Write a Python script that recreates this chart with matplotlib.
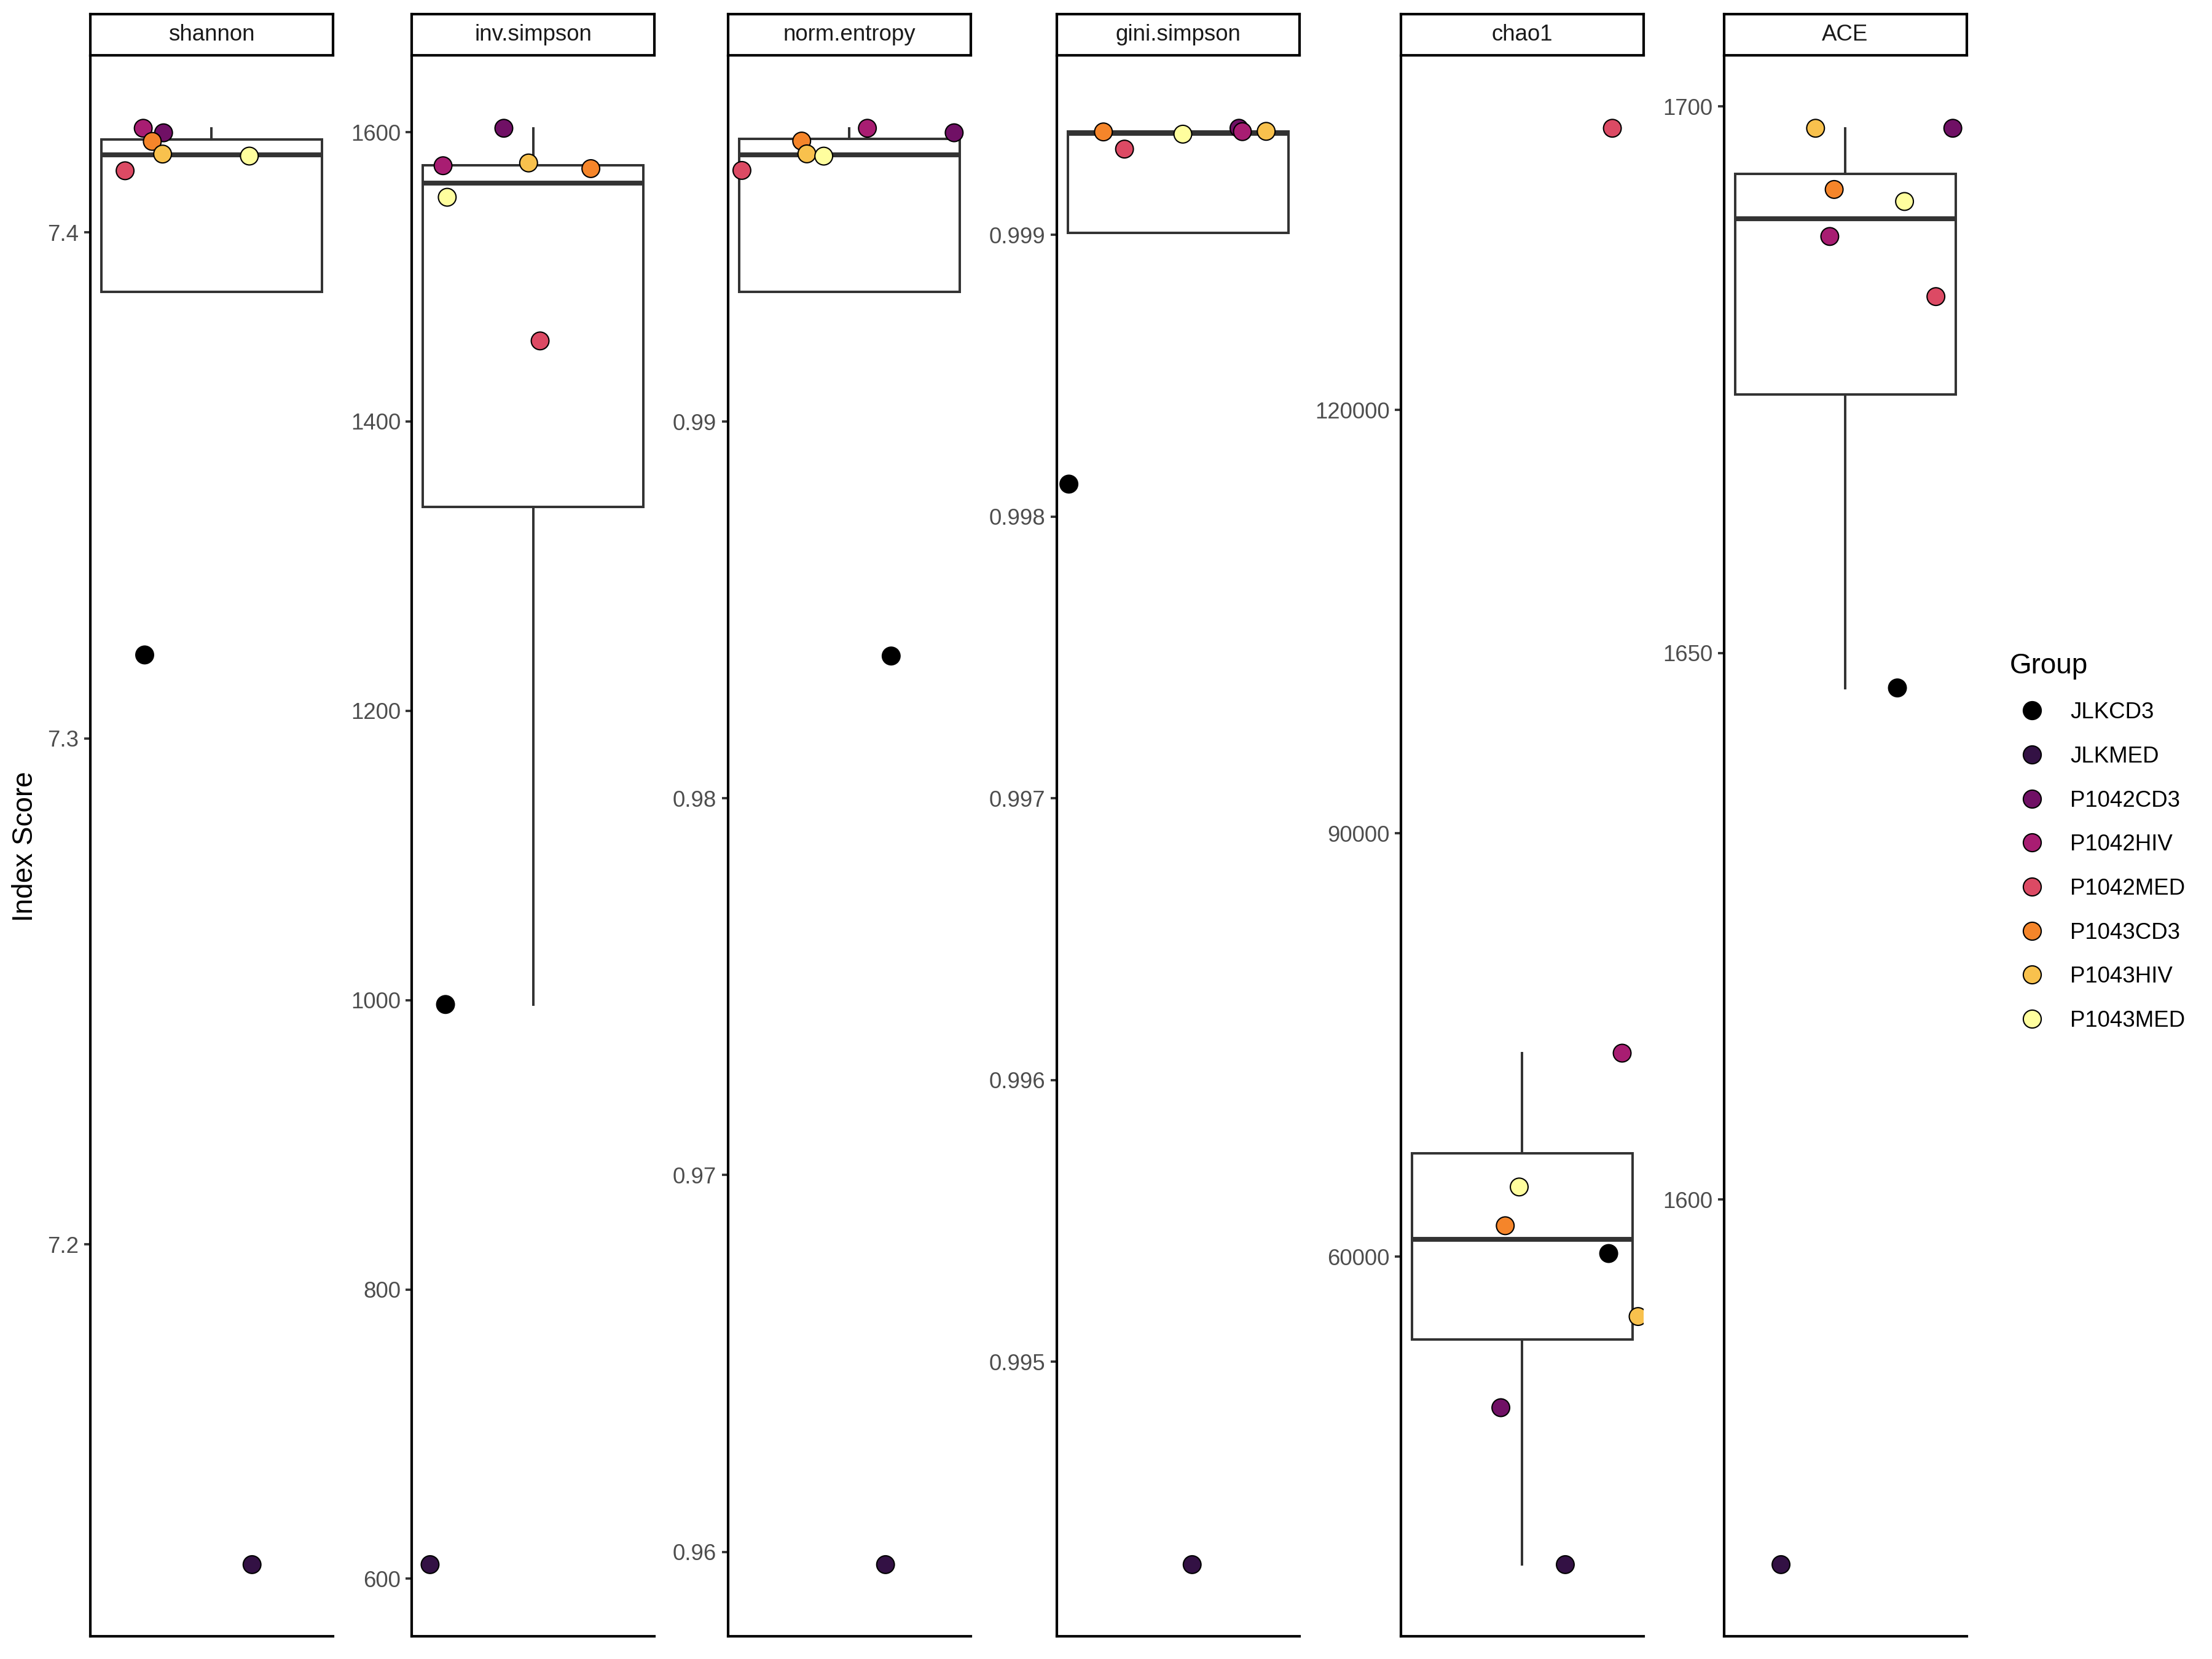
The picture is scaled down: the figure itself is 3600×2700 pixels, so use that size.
import matplotlib
matplotlib.use("Agg")
import matplotlib.pyplot as plt
from matplotlib.lines import Line2D

plt.rcParams['font.family'] = ['Liberation Sans', 'DejaVu Sans']

# sample groups and their fill colours
groups = ['JLKCD3', 'JLKMED', 'P1042CD3', 'P1042HIV', 'P1042MED',
          'P1043CD3', 'P1043HIV', 'P1043MED']
colors = ['#000000', '#331144', '#701065', '#A81D72', '#DC4A64',
          '#F5852A', '#F8C14D', '#FFFE9E']

metrics = ['shannon', 'inv.simpson', 'norm.entropy', 'gini.simpson', 'chao1', 'ACE']

# index values, same order as groups
shannon = [7.3165, 7.1367, 7.4197, 7.4206, 7.4122, 7.4180, 7.4155, 7.4151]
inv_simpson = [997.0, 609.8, 1602.7, 1576.8, 1455.7, 1574.8, 1578.7, 1555.0]
norm_entropy = [0.98378, 0.95966, 0.99767, 0.99779, 0.99667, 0.99745, 0.99711, 0.99705]
gini_simpson = [0.998115, 0.99428, 0.999378, 0.999366, 0.999304, 0.999365, 0.999367, 0.999357]
chao1 = [60222, 38176, 49296, 74420, 139960, 62190, 55757, 64936]
ace = [1646.8, 1566.6, 1698.0, 1688.1, 1682.6, 1692.4, 1698.0, 1691.3]

# horizontal jitter (box spans -0.45..0.45)
jit_shannon = [-0.273, 0.165, -0.196, -0.279, -0.353, -0.242, -0.200, 0.154]
jit_inv = [-0.358, -0.421, -0.120, -0.368, 0.028, 0.235, -0.019, -0.351]
jit_norm = [0.171, 0.148, 0.428, 0.074, -0.438, -0.194, -0.173, -0.104]
jit_gini = [-0.445, 0.058, 0.249, 0.263, -0.218, -0.304, 0.360, 0.020]
jit_chao1 = [0.353, 0.176, -0.087, 0.408, 0.368, -0.069, 0.473, -0.012]
jit_ace = [0.213, -0.262, 0.439, -0.063, 0.370, -0.045, -0.121, 0.242]

ticks_shannon = [7.2, 7.3, 7.4]
ticks_inv = [600, 800, 1000, 1200, 1400, 1600]
ticks_norm = [0.96, 0.97, 0.98, 0.99]
ticks_gini = [0.995, 0.996, 0.997, 0.998, 0.999]
ticks_chao1 = [60000, 90000, 120000]
ticks_ace = [1600, 1650, 1700]

values = [shannon, inv_simpson, norm_entropy, gini_simpson, chao1, ace]
jitters = [jit_shannon, jit_inv, jit_norm, jit_gini, jit_chao1, jit_ace]
ticks = [ticks_shannon, ticks_inv, ticks_norm, ticks_gini, ticks_chao1, ticks_ace]

W, H = 1568.0, 1176.0
panel_left = [64, 292, 516, 749, 993, 1222]
panel_w = 172
panel_top, panel_bot = 40, 1160
strip_top, strip_bot = 10, 39

box_col = '#333333'
fig = plt.figure(figsize=(12, 9), dpi=300)

for i, name in enumerate(metrics):
    l = panel_left[i] / W
    ax = fig.add_axes([l, 1 - panel_bot / H, panel_w / W, (panel_bot - panel_top) / H])
    vals = values[i]
    ax.boxplot(vals, positions=[0], widths=0.9, showfliers=False, showcaps=False,
               patch_artist=True,
               boxprops=dict(facecolor='white', edgecolor=box_col, linewidth=0.95),
               whiskerprops=dict(color=box_col, linewidth=0.95),
               medianprops=dict(color=box_col, linewidth=1.9))
    ax.scatter(jitters[i], vals, s=48, c=colors, edgecolors='black',
               linewidths=0.5, zorder=3)
    ax.set_xlim(-0.495, 0.495)
    ax.set_xticks([])
    ax.set_yticks(ticks[i])
    ax.set_yticklabels([str(t) for t in ticks[i]])
    # free y scale: data range plus 5% each side (set after ticks)
    lo, hi = min(vals), max(vals)
    pad = 0.05 * (hi - lo)
    ax.set_ylim(lo - pad, hi + pad)
    ax.tick_params(axis='y', length=2.4, width=0.9, color=box_col,
                   labelsize=8.8, labelcolor='#4D4D4D', pad=2)
    for s in ['top', 'right']:
        ax.spines[s].set_visible(False)
    for s in ['left', 'bottom']:
        ax.spines[s].set_linewidth(1.0)
        ax.spines[s].set_color('black')

    sax = fig.add_axes([l, 1 - strip_top / H - (strip_bot - strip_top) / H,
                        panel_w / W, (strip_bot - strip_top) / H])
    sax.set_xticks([])
    sax.set_yticks([])
    for s in sax.spines.values():
        s.set_linewidth(1.0)
        s.set_color('black')
    sax.text(0.5, 0.5, name, ha='center', va='center', fontsize=8.8,
             color='#1A1A1A', transform=sax.transAxes)

fig.text(18 / W, 1 - 600 / H, 'Index Score', rotation=90, ha='center',
         va='center', fontsize=11)

handles = [Line2D([], [], marker='o', linestyle='none', markersize=7,
                  markerfacecolor=c, markeredgecolor='black', markeredgewidth=0.5)
           for c in colors]
leg = fig.legend(handles, groups, title='Group', loc='upper left',
                 bbox_to_anchor=(1418 / W, 1 - 456 / H), frameon=False,
                 fontsize=8.8, title_fontsize=11, labelspacing=1.0,
                 handletextpad=0.7, borderaxespad=0)
leg._legend_box.align = 'left'

fig.savefig('out.png', dpi=300)
